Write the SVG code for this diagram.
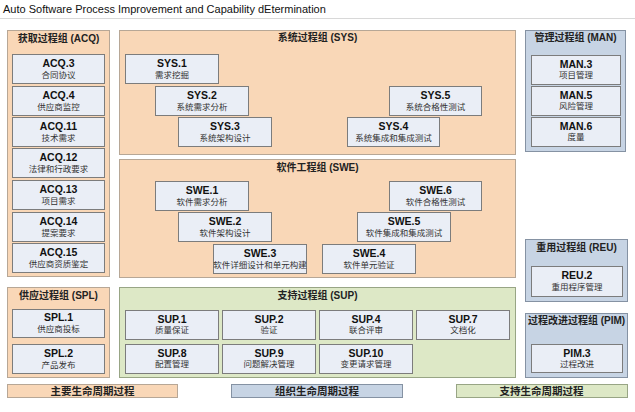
<svg xmlns="http://www.w3.org/2000/svg" width="635" height="412" viewBox="0 0 635 412">
<style>
text{font-family:"Liberation Sans","Noto Sans CJK SC",sans-serif;text-anchor:middle}
.ttl{font-size:11px;text-anchor:start;fill:#111}
.g{stroke-width:1}
.or{fill:#f9d7b7;stroke:#b7a796}
.bl{fill:#c7d4e4;stroke:#8592a3}
.gr{fill:#dde8c6;stroke:#98a585}
.gt{font-size:10px;font-weight:bold;fill:#222}
.bx{fill:#eaeef6;stroke:#7c7c7c;stroke-width:1}
.c{font-size:10.5px;font-weight:bold;fill:#111}
.n{font-size:8.5px;fill:#333}
.lg{font-size:10.5px;font-weight:bold;fill:#222}
</style>
<rect width="635" height="412" fill="#ffffff"/>
<text class="ttl" x="3" y="13">Auto Software Process Improvement and Capability dEtermination</text>
<line x1="0" y1="18.5" x2="635" y2="18.5" stroke="#d8d8d8"/>

<g id="ACQ">
<rect class="g or" x="7.5" y="30.5" width="102" height="246"/>
<text class="gt" x="58.5" y="42">获取过程组 (ACQ)</text>
<g id="ACQ3"><rect class="bx" x="12.5" y="54.5" width="92" height="29"/><text class="c" x="58.5" y="67">ACQ.3</text><text class="n" x="58.5" y="78">合同协议</text></g>
<g id="ACQ4"><rect class="bx" x="12.5" y="86.5" width="92" height="29"/><text class="c" x="58.5" y="99">ACQ.4</text><text class="n" x="58.5" y="110">供应商监控</text></g>
<g id="ACQ11"><rect class="bx" x="12.5" y="117.5" width="92" height="29"/><text class="c" x="58.5" y="130">ACQ.11</text><text class="n" x="58.5" y="141">技术需求</text></g>
<g id="ACQ12"><rect class="bx" x="12.5" y="148.5" width="92" height="29"/><text class="c" x="58.5" y="161">ACQ.12</text><text class="n" x="58.5" y="172">法律和行政要求</text></g>
<g id="ACQ13"><rect class="bx" x="12.5" y="180.5" width="92" height="29"/><text class="c" x="58.5" y="193">ACQ.13</text><text class="n" x="58.5" y="204">项目需求</text></g>
<g id="ACQ14"><rect class="bx" x="12.5" y="212.5" width="92" height="29"/><text class="c" x="58.5" y="225">ACQ.14</text><text class="n" x="58.5" y="236">提案要求</text></g>
<g id="ACQ15"><rect class="bx" x="12.5" y="243.5" width="92" height="29"/><text class="c" x="58.5" y="256">ACQ.15</text><text class="n" x="58.5" y="267">供应商资质鉴定</text></g>
</g>

<g id="SPL">
<rect class="g or" x="7.5" y="287.5" width="102" height="90"/>
<text class="gt" x="58.5" y="299">供应过程组 (SPL)</text>
<g id="SPL1"><rect class="bx" x="12.5" y="309.5" width="92" height="28"/><text class="c" x="58.5" y="321">SPL.1</text><text class="n" x="58.5" y="332">供应商投标</text></g>
<g id="SPL2"><rect class="bx" x="12.5" y="344.5" width="92" height="29"/><text class="c" x="58.5" y="357">SPL.2</text><text class="n" x="58.5" y="368">产品发布</text></g>
</g>

<g id="SYS">
<rect class="g or" x="119.5" y="30.5" width="396" height="124"/>
<text class="gt" x="317.5" y="41">系统过程组 (SYS)</text>
<g id="SYS1"><rect class="bx" x="125.5" y="54.5" width="93" height="29"/><text class="c" x="172" y="67">SYS.1</text><text class="n" x="172" y="78">需求挖掘</text></g>
<g id="SYS2"><rect class="bx" x="155.5" y="86.5" width="93" height="29"/><text class="c" x="202" y="99">SYS.2</text><text class="n" x="202" y="110">系统需求分析</text></g>
<g id="SYS3"><rect class="bx" x="178.5" y="117.5" width="93" height="29"/><text class="c" x="225" y="130">SYS.3</text><text class="n" x="225" y="141">系统架构设计</text></g>
<g id="SYS5"><rect class="bx" x="389.5" y="86.5" width="92" height="29"/><text class="c" x="435.5" y="99">SYS.5</text><text class="n" x="435.5" y="110">系统合格性测试</text></g>
<g id="SYS4"><rect class="bx" x="347.5" y="117.5" width="92" height="29"/><text class="c" x="393.5" y="130">SYS.4</text><text class="n" x="393.5" y="141">系统集成和集成测试</text></g>
</g>

<g id="SWE">
<rect class="g or" x="119.5" y="159.5" width="396" height="118"/>
<text class="gt" x="317.5" y="171">软件工程组 (SWE)</text>
<g id="SWE1"><rect class="bx" x="155.5" y="181.5" width="93" height="29"/><text class="c" x="202" y="194">SWE.1</text><text class="n" x="202" y="205">软件需求分析</text></g>
<g id="SWE2"><rect class="bx" x="178.5" y="212.5" width="93" height="29"/><text class="c" x="225" y="225">SWE.2</text><text class="n" x="225" y="236">软件架构设计</text></g>
<g id="SWE3"><rect class="bx" x="213.5" y="244.5" width="93" height="29"/><text class="c" x="260" y="257">SWE.3</text><text class="n" x="260" y="268">软件详细设计和单元构建</text></g>
<g id="SWE6"><rect class="bx" x="389.5" y="181.5" width="92" height="29"/><text class="c" x="435.5" y="194">SWE.6</text><text class="n" x="435.5" y="205">软件合格性测试</text></g>
<g id="SWE5"><rect class="bx" x="357.5" y="212.5" width="93" height="29"/><text class="c" x="404" y="225">SWE.5</text><text class="n" x="404" y="236">软件集成和集成测试</text></g>
<g id="SWE4"><rect class="bx" x="322.5" y="244.5" width="93" height="29"/><text class="c" x="369" y="257">SWE.4</text><text class="n" x="369" y="268">软件单元验证</text></g>
</g>

<g id="SUP">
<rect class="g gr" x="119.5" y="287.5" width="396" height="90"/>
<text class="gt" x="317.5" y="299">支持过程组 (SUP)</text>
<g id="SUP1"><rect class="bx" x="125.5" y="310.5" width="93" height="29"/><text class="c" x="172" y="323">SUP.1</text><text class="n" x="172" y="333">质量保证</text></g>
<g id="SUP2"><rect class="bx" x="222.5" y="310.5" width="93" height="29"/><text class="c" x="269" y="323">SUP.2</text><text class="n" x="269" y="333">验证</text></g>
<g id="SUP4"><rect class="bx" x="319.5" y="310.5" width="93" height="29"/><text class="c" x="366" y="323">SUP.4</text><text class="n" x="366" y="333">联合评审</text></g>
<g id="SUP7"><rect class="bx" x="416.5" y="310.5" width="93" height="29"/><text class="c" x="463" y="323">SUP.7</text><text class="n" x="463" y="333">文档化</text></g>
<g id="SUP8"><rect class="bx" x="125.5" y="344.5" width="93" height="29"/><text class="c" x="172" y="357">SUP.8</text><text class="n" x="172" y="367">配置管理</text></g>
<g id="SUP9"><rect class="bx" x="222.5" y="344.5" width="93" height="29"/><text class="c" x="269" y="357">SUP.9</text><text class="n" x="269" y="367">问题解决管理</text></g>
<g id="SUP10"><rect class="bx" x="319.5" y="344.5" width="93" height="29"/><text class="c" x="366" y="357">SUP.10</text><text class="n" x="366" y="367">变更请求管理</text></g>
</g>

<g id="MAN">
<rect class="g bl" x="525.5" y="30.5" width="100" height="121"/>
<text class="gt" x="575.5" y="41">管理过程组 (MAN)</text>
<g id="MAN3"><rect class="bx" x="531.5" y="55.5" width="89" height="29"/><text class="c" x="576" y="68">MAN.3</text><text class="n" x="576" y="78">项目管理</text></g>
<g id="MAN5"><rect class="bx" x="531.5" y="86.5" width="89" height="29"/><text class="c" x="576" y="99">MAN.5</text><text class="n" x="576" y="109">风险管理</text></g>
<g id="MAN6"><rect class="bx" x="531.5" y="117.5" width="89" height="29"/><text class="c" x="576" y="130">MAN.6</text><text class="n" x="576" y="140">度量</text></g>
</g>

<g id="REU">
<rect class="g bl" x="525.5" y="239.5" width="102" height="62"/>
<text class="gt" x="576.5" y="251">重用过程组 (REU)</text>
<g id="REU2"><rect class="bx" x="531.5" y="266.5" width="91" height="30"/><text class="c" x="577" y="279">REU.2</text><text class="n" x="577" y="290">重用程序管理</text></g>
</g>

<g id="PIM">
<rect class="g bl" x="525.5" y="313.5" width="102" height="64"/>
<text class="gt" x="576.5" y="324">过程改进过程组 (PIM)</text>
<g id="PIM3"><rect class="bx" x="531.5" y="344.5" width="91" height="28"/><text class="c" x="577" y="357">PIM.3</text><text class="n" x="577" y="367">过程改进</text></g>
</g>

<g id="legend">
<rect class="g or" x="7.5" y="384.5" width="170" height="13"/>
<text class="lg" x="92.5" y="395">主要生命周期过程</text>
<rect class="g bl" x="231.5" y="384.5" width="171" height="13"/>
<text class="lg" x="317" y="395">组织生命周期过程</text>
<rect class="g gr" x="456.5" y="384.5" width="171" height="13"/>
<text class="lg" x="541.5" y="395">支持生命周期过程</text>
</g>
</svg>
